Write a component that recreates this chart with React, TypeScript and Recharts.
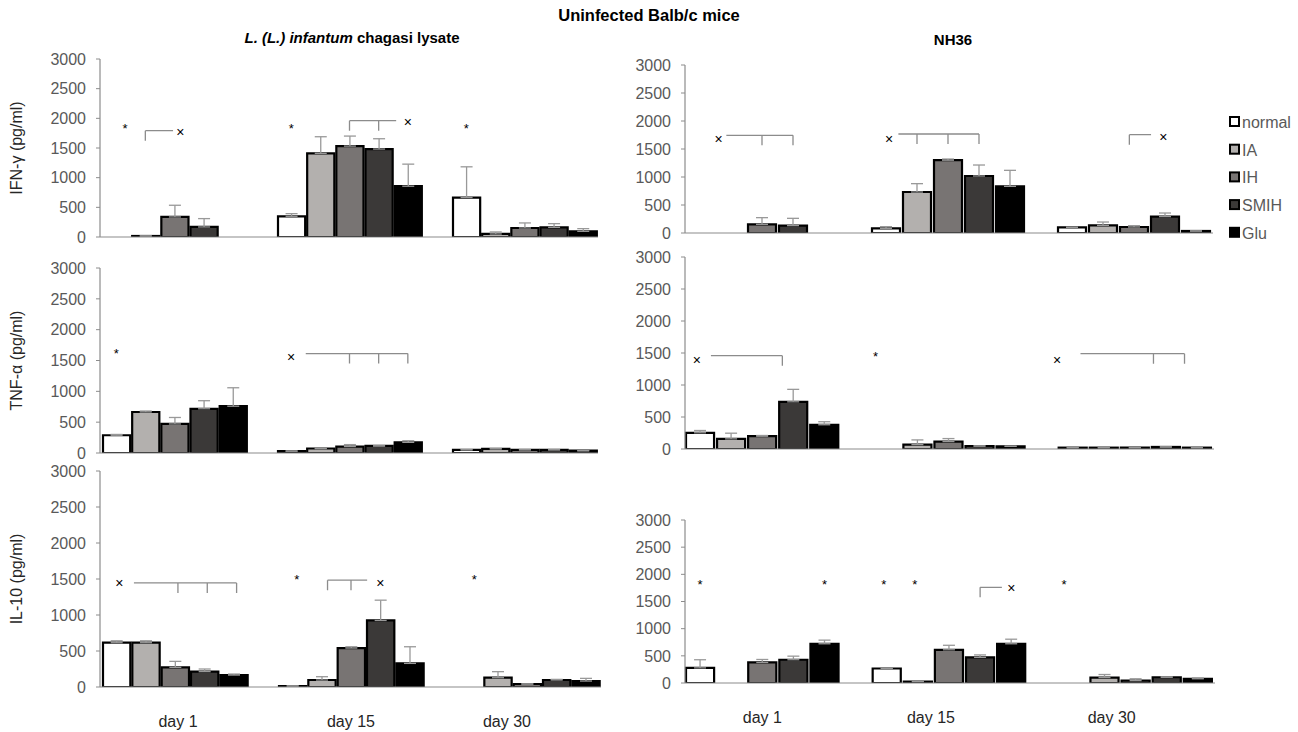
import React from "react";
import { BarChart, Bar, XAxis, YAxis, ErrorBar, ReferenceDot } from "recharts";

const FONT = "'Liberation Sans', Arial, sans-serif";
const AXIS = "#8c8c8c";

const DAYS = ["day 1", "day 15", "day 30"];
const SERIES = ["normal", "IA", "IH", "SMIH", "Glu"];
const COLORS = ["#ffffff", "#b3b0ae", "#787473", "#3b3938", "#000000"];
const Y_TICKS = [0, 500, 1000, 1500, 2000, 2500, 3000];

// means / error (upper SD) per series, per day
const ifnLysate = [
  [0, 349, 665],
  [17, 1410, 51],
  [338, 1532, 152],
  [169, 1482, 163],
  [0, 856, 96],
];
const ifnLysateErr = [
  [0, 45, 518],
  [0, 280, 34],
  [197, 169, 85],
  [141, 174, 62],
  [0, 372, 45],
];
const ifnNh36 = [
  [0, 83, 101],
  [0, 732, 137],
  [155, 1300, 107],
  [131, 1018, 292],
  [0, 833, 36],
];
const ifnNh36Err = [
  [0, 30, 0],
  [0, 149, 59],
  [119, 21, 24],
  [131, 196, 65],
  [0, 286, 0],
];
const tnfLysate = [
  [288, 31, 52],
  [665, 73, 68],
  [471, 105, 52],
  [717, 115, 52],
  [759, 173, 37],
];
const tnfLysateErr = [
  [13, 0, 0],
  [16, 0, 0],
  [105, 31, 0],
  [131, 0, 0],
  [299, 26, 0],
];
const tnfNh36 = [
  [253, 0, 21],
  [158, 68, 21],
  [200, 116, 21],
  [737, 47, 32],
  [379, 42, 21],
];
const tnfNh36Err = [
  [36, 0, 0],
  [89, 74, 0],
  [11, 47, 0],
  [195, 0, 0],
  [47, 0, 0],
];
const il10Lysate = [
  [615, 14, 0],
  [615, 97, 129],
  [273, 541, 42],
  [213, 924, 97],
  [166, 328, 83],
];
const il10LysateErr = [
  [27, 0, 0],
  [27, 46, 84],
  [83, 18, 0],
  [37, 282, 9],
  [14, 231, 37],
];
const il10Nh36 = [
  [278, 267, 0],
  [0, 28, 100],
  [378, 611, 44],
  [428, 472, 106],
  [722, 722, 78],
];
const il10Nh36Err = [
  [150, 0, 0],
  [0, 0, 56],
  [55, 83, 34],
  [66, 45, 5],
  [67, 84, 16],
];

type Mark = { day: string; bar: number; v: number; sym: string };
type Bracket = { day: string; from: number; to: number; ticks: number[]; v: number };

const ifnLysateMarks: Mark[] = [
  { day: "day 1", bar: 0.3, v: 1848, sym: "*" },
  { day: "day 1", bar: 2.2, v: 1746, sym: "×" },
  { day: "day 15", bar: 0, v: 1848, sym: "*" },
  { day: "day 15", bar: 4, v: 1915, sym: "×" },
  { day: "day 30", bar: 0, v: 1848, sym: "*" },
];
const ifnLysateBrackets: Bracket[] = [
  { day: "day 1", from: 1, to: 1.95, ticks: [1], v: 1792 },
  { day: "day 15", from: 2, to: 3.6, ticks: [2, 3], v: 1961 },
];
const ifnNh36Marks: Mark[] = [
  { day: "day 1", bar: 0.6, v: 1667, sym: "×" },
  { day: "day 15", bar: 0.1, v: 1667, sym: "×" },
  { day: "day 30", bar: 2.95, v: 1696, sym: "×" },
];
const ifnNh36Brackets: Bracket[] = [
  { day: "day 1", from: 0.85, to: 3, ticks: [2, 3], v: 1744 },
  { day: "day 15", from: 0.4, to: 3, ticks: [1, 2, 3], v: 1768 },
  { day: "day 30", from: 1.85, to: 2.55, ticks: [1.85], v: 1756 },
];
const tnfLysateMarks: Mark[] = [
  { day: "day 1", bar: 0, v: 1634, sym: "*" },
  { day: "day 15", bar: 0, v: 1545, sym: "×" },
];
const tnfLysateBrackets: Bracket[] = [
  { day: "day 15", from: 0.5, to: 4, ticks: [2, 3, 4], v: 1613 },
];
const tnfNh36Marks: Mark[] = [
  { day: "day 1", bar: -0.1, v: 1368, sym: "×" },
  { day: "day 15", bar: -0.35, v: 1463, sym: "*" },
  { day: "day 30", bar: -0.5, v: 1368, sym: "×" },
];
const tnfNh36Brackets: Bracket[] = [
  { day: "day 1", from: 0.35, to: 2.65, ticks: [2.65], v: 1458 },
  { day: "day 30", from: 0.25, to: 3.6, ticks: [2.6, 3.6], v: 1489 },
];
const il10LysateMarks: Mark[] = [
  { day: "day 1", bar: 0.1, v: 1437, sym: "×" },
  { day: "day 15", bar: 0.15, v: 1516, sym: "*" },
  { day: "day 15", bar: 3, v: 1437, sym: "×" },
  { day: "day 30", bar: 0.2, v: 1516, sym: "*" },
];
const il10LysateBrackets: Bracket[] = [
  { day: "day 1", from: 0.6, to: 4.1, ticks: [2.1, 3.1, 4.1], v: 1446 },
  { day: "day 15", from: 1.2, to: 2.55, ticks: [1.2, 2], v: 1483 },
];
const il10Nh36Marks: Mark[] = [
  { day: "day 1", bar: 0, v: 1833, sym: "*" },
  { day: "day 1", bar: 4, v: 1833, sym: "*" },
  { day: "day 15", bar: -0.1, v: 1833, sym: "*" },
  { day: "day 15", bar: 0.9, v: 1833, sym: "*" },
  { day: "day 15", bar: 4, v: 1739, sym: "×" },
  { day: "day 30", bar: -0.3, v: 1833, sym: "*" },
];
const il10Nh36Brackets: Bracket[] = [
  { day: "day 15", from: 3, to: 3.7, ticks: [3], v: 1761 },
];

type PanelCfg = {
  left: number;
  right: number;
  top: number;
  bottom: number;
  padL: number;
  padR: number;
  gap: number;
  means: number[][];
  errs: number[][];
  marks: Mark[];
  brackets: Bracket[];
  dayShift: number[] | null;
  yLabel: string;
};

const PANELS: PanelCfg[] = [
  { left: 100, right: 598, top: 59, bottom: 237, padL: -13, padR: -14, gap: 2, means: ifnLysate, errs: ifnLysateErr, marks: ifnLysateMarks, brackets: ifnLysateBrackets, dayShift: null, yLabel: "IFN-γ (pg/ml)" },
  { left: 685, right: 1213, top: 65, bottom: 233, padL: -16, padR: -14, gap: 3, means: ifnNh36, errs: ifnNh36Err, marks: ifnNh36Marks, brackets: ifnNh36Brackets, dayShift: null, yLabel: "" },
  { left: 100, right: 598, top: 268, bottom: 453, padL: -13, padR: -14, gap: 2, means: tnfLysate, errs: tnfLysateErr, marks: tnfLysateMarks, brackets: tnfLysateBrackets, dayShift: null, yLabel: "TNF-α (pg/ml)" },
  { left: 685, right: 1214, top: 257, bottom: 449, padL: -16, padR: -14, gap: 3, means: tnfNh36, errs: tnfNh36Err, marks: tnfNh36Marks, brackets: tnfNh36Brackets, dayShift: null, yLabel: "" },
  { left: 100, right: 601, top: 471, bottom: 687, padL: -13, padR: -14, gap: 2, means: il10Lysate, errs: il10LysateErr, marks: il10LysateMarks, brackets: il10LysateBrackets, dayShift: [3, 0, -20], yLabel: "IL-10 (pg/ml)" },
  { left: 685, right: 1215, top: 520, bottom: 683, padL: -16, padR: -14, gap: 3, means: il10Nh36, errs: il10Nh36Err, marks: il10Nh36Marks, brackets: il10Nh36Brackets, dayShift: [0, -18, -24], yLabel: "" },
];

function Panel({ cfg }: { cfg: PanelCfg }) {
  const yw = 60;
  const chartLeft = cfg.left - yw;
  const chartTop = cfg.top - 12;
  const xh = cfg.dayShift ? 44 : 2;
  const mb = cfg.dayShift ? 0 : 10;
  const width = cfg.right + 20 - chartLeft;
  const height = cfg.bottom + xh + mb - chartTop;
  const band = (cfg.right - cfg.padR - (cfg.left + cfg.padL)) / 3;
  const step = band / 6;
  const barSize = step - cfg.gap;

  const rows = DAYS.map((day, i) => {
    const r: any = { day };
    SERIES.forEach((s, k) => {
      r[s] = cfg.means[k][i];
      r[s + "Err"] = [0, cfg.errs[k][i]];
    });
    return r;
  });

  const DayTick = (props: any) => (
    <text
      x={props.x + (cfg.dayShift ? cfg.dayShift[props.index] : 0)}
      y={props.y}
      dy={38}
      textAnchor="middle"
      fill="#262626"
      fontSize={16}
      fontFamily={FONT}
    >
      {props.payload.value}
    </text>
  );

  return (
    <div style={{ position: "absolute", left: chartLeft, top: chartTop }}>
      <BarChart
        width={width}
        height={height}
        data={rows}
        margin={{ top: 12, right: 20, bottom: mb, left: 0 }}
        barSize={barSize}
        barGap={cfg.gap}
        style={{ fontFamily: FONT }}
      >
        <XAxis
          dataKey="day"
          type="category"
          padding={{ left: cfg.padL, right: cfg.padR }}
          axisLine={{ stroke: AXIS, strokeWidth: 1.2 }}
          tickLine={false}
          tickSize={0}
          tick={cfg.dayShift ? <DayTick /> : false}
          height={xh}
          interval={0}
        />
        <YAxis
          type="number"
          domain={[0, 3000]}
          ticks={Y_TICKS}
          interval={0}
          width={yw}
          axisLine={{ stroke: AXIS, strokeWidth: 1.2 }}
          tickLine={{ stroke: AXIS }}
          tickSize={4}
          tickMargin={10}
          tick={{ fill: "#595959", fontSize: 16 }}
          allowDataOverflow
        />
        {SERIES.map((s, k) => (
          <Bar key={s} dataKey={s} fill={COLORS[k]} stroke="#000" strokeWidth={2.2} isAnimationActive={false}>
            <ErrorBar dataKey={s + "Err"} width={6} stroke="#999" strokeWidth={1.3} direction="y" />
          </Bar>
        ))}
        {cfg.brackets.map((b, i) => (
          <ReferenceDot
            key={"b" + i}
            x={b.day}
            y={b.v}
            r={2}
            ifOverflow="visible"
            shape={(p: any) => {
              const x0 = p.cx + (b.from - 2) * step;
              const x1 = p.cx + (b.to - 2) * step;
              let d = `M${x0},${p.cy}H${x1}`;
              b.ticks.forEach((t) => {
                const tx = p.cx + (t - 2) * step;
                d += `M${tx},${p.cy}V${p.cy + 10}`;
              });
              return <path d={d} stroke="#8c8c8c" strokeWidth={1.3} fill="none" />;
            }}
          />
        ))}
        {cfg.marks.map((m, i) => (
          <ReferenceDot
            key={"m" + i}
            x={m.day}
            y={m.v}
            r={2}
            ifOverflow="visible"
            shape={(p: any) => (
              <text
                x={p.cx + (m.bar - 2) * step}
                y={p.cy + (m.sym === "*" ? 6 : 4)}
                textAnchor="middle"
                fontSize={m.sym === "*" ? 13 : 14}
                fill="#000"
                fontFamily={FONT}
              >
                {m.sym}
              </text>
            )}
          />
        ))}
      </BarChart>
    </div>
  );
}

export default function App() {
  return (
    <div style={{ position: "absolute", left: 0, top: 0, width: 1298, height: 732, background: "#fff", overflow: "hidden" }}>
      {PANELS.map((p, i) => (
        <Panel key={i} cfg={p} />
      ))}
      <svg width={1298} height={732} style={{ position: "absolute", left: 0, top: 0, pointerEvents: "none" }} fontFamily={FONT}>
        <text x={649} y={21} textAnchor="middle" fontSize={16.5} fontWeight="bold" fill="#000">
          Uninfected Balb/c mice
        </text>
        <text x={352} y={43} textAnchor="middle" fontSize={15} fontWeight="bold" fill="#000">
          <tspan fontStyle="italic">L. (L.) infantum</tspan> chagasi lysate
        </text>
        <text x={953} y={45} textAnchor="middle" fontSize={15} fontWeight="bold" fill="#000">
          NH36
        </text>
        {PANELS.filter((p) => p.yLabel).map((p, i) => {
          const cy = (p.top + p.bottom) / 2;
          return (
            <text key={i} x={0} y={0} transform={`translate(22,${cy}) rotate(-90)`} textAnchor="middle" fontSize={16} fill="#262626">
              {p.yLabel}
            </text>
          );
        })}
        {SERIES.map((s, k) => {
          const cy = 122 + k * 27.7;
          return (
            <g key={s}>
              <rect x={1230} y={cy - 5} width={9} height={9} fill={COLORS[k]} stroke="#000" strokeWidth={2} />
              <text x={1242} y={cy + 6} fontSize={16} fill="#595959">
                {s}
              </text>
            </g>
          );
        })}
      </svg>
    </div>
  );
}
